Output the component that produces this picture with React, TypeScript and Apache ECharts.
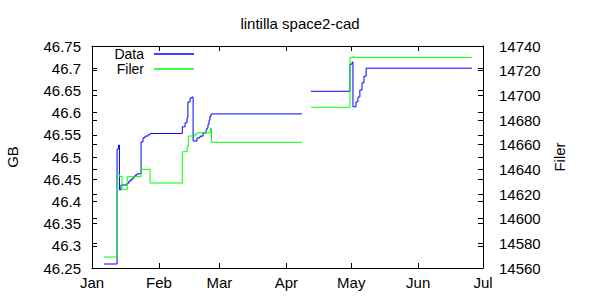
import React, { useEffect, useRef } from "react";
import * as echarts from "echarts";

// Days after Jan 1 (non-leap year) where each step of the series begins
const dataDays = [5.6, 11.6, 12.3, 12.7, 13.4, 16.2, 17.1, 18.1, 19.0, 19.9, 20.8, 22.7, 23.6, 24.5, 25.9, 26.9, 41.8, 43.1, 44.0, 44.4, 45.4, 46.3, 46.8, 48.6, 50.0, 51.4, 52.8, 53.2, 53.7, 54.2, 54.6, 55.1, 97.2, 97.5, 101.4, 119.4, 120.4, 120.8, 122.2, 123.1, 124.0, 125.0, 125.9, 126.9, 175.9];
const dataGB = [46.259, 46.518, 46.527, 46.426, 46.437, 46.441, 46.446, 46.45, 46.455, 46.459, 46.462, 46.534, 46.543, 46.547, 46.55, 46.553, 46.568, 46.577, 46.588, 46.624, 46.633, 46.635, 46.536, 46.543, 46.547, 46.554, 46.561, 46.565, 46.574, 46.583, 46.592, 46.597, 46.597, null, 46.648, 46.709, 46.714, 46.613, 46.624, 46.635, 46.651, 46.667, 46.682, 46.7, 46.7];

const filerDays = [5.6, 11.7, 12.7, 13.9, 16.3, 22.7, 26.9, 41.8, 44.0, 44.6, 47.7, 48.6, 54.9, 55.3, 97.2, 97.5, 101.4, 119.4, 121.0, 121.3, 175.9];
const filerCount = [14568.9, 14636.0, 14634.2, 14623.8, 14634.0, 14640.0, 14628.9, 14654.3, 14658.4, 14667.0, 14668.4, 14669.7, 14673.3, 14661.9, 14661.9, null, 14690.3, 14730.8, 14732.1, 14730.8, 14730.8];

const monthNames = ["Jan", "Feb", "Mar", "Apr", "May", "Jun", "Jul", "Aug", "Sep", "Oct", "Nov", "Dec"];

const YEAR = 2011;
const DAY = 86400000;
const START = Date.UTC(YEAR, 0, 1);
const END = Date.UTC(YEAR, 6, 1);

const toPairs = (days: number[], vals: (number | null)[]) =>
  days.map((d, i) => [START + d * DAY, vals[i] === null ? "-" : vals[i]]);

const FONT = "Liberation Sans";
const FS = 15;

export default function App() {
  const ref = useRef<HTMLDivElement>(null);
  useEffect(() => {
    if (!ref.current) return;
    const chart = echarts.init(ref.current, null, { renderer: "svg" });
    const axisLine = { show: true, lineStyle: { color: "#000", width: 1 } };
    const tickIn = { show: true, inside: true, length: 5, lineStyle: { color: "#000" } };
    const label = { color: "#000", fontFamily: FONT, fontSize: FS };
    const legendBase = {
      right: 406,
      align: "right",
      icon: "rect",
      itemWidth: 40,
      itemHeight: 1.5,
      itemGap: 0,
      padding: 0,
      textStyle: { ...label, fontSize: 14, lineHeight: 14, padding: [0, 5, 0, 0] },
    };
    chart.setOption({
      animation: false,
      useUTC: true,
      backgroundColor: "#fff",
      textStyle: { fontFamily: FONT },
      title: {
        text: "lintilla space2-cad",
        left: "center",
        top: 11,
        textStyle: { color: "#000", fontFamily: FONT, fontSize: FS, fontWeight: "normal" },
      },
      legend: [
        { ...legendBase, data: ["Data"], top: 47 },
        { ...legendBase, data: ["Filer"], top: 62 },
      ],
      grid: { left: 92, right: 117, top: 46, bottom: 32, containLabel: false, outerBoundsMode: "none" },
      xAxis: [
        {
          type: "time",
          min: START,
          max: END,
          minInterval: 28 * DAY,
          maxInterval: 31 * DAY,
          axisLine,
          axisTick: tickIn,
          splitLine: { show: false },
          axisLabel: {
            ...label,
            margin: 7,
            hideOverlap: false,
            showMinLabel: true,
            showMaxLabel: true,
            formatter: (v: number) => monthNames[new Date(v).getUTCMonth()],
          },
        },
        {
          type: "time",
          position: "top",
          min: START,
          max: END,
          minInterval: 28 * DAY,
          maxInterval: 31 * DAY,
          axisLine,
          axisTick: tickIn,
          splitLine: { show: false },
          axisLabel: { show: false },
        },
      ],
      yAxis: [
        {
          type: "value",
          name: "GB",
          nameLocation: "middle",
          nameGap: 72,
          nameRotate: 90,
          nameTextStyle: label,
          min: 46.25,
          max: 46.75,
          interval: 0.05,
          position: "left",
          axisLine,
          axisTick: tickIn,
          splitLine: { show: false },
          axisLabel: { ...label, margin: 11 },
        },
        {
          type: "value",
          name: "Filer",
          nameLocation: "middle",
          nameGap: 68,
          nameRotate: 90,
          nameTextStyle: label,
          min: 14560,
          max: 14740,
          interval: 20,
          position: "right",
          axisLine,
          axisTick: tickIn,
          splitLine: { show: false },
          axisLabel: { ...label, margin: 16, formatter: (v: number) => String(v) },
        },
        {
          type: "value",
          min: 46.25,
          max: 46.75,
          interval: 0.05,
          position: "right",
          axisLine: { show: false },
          axisTick: tickIn,
          splitLine: { show: false },
          axisLabel: { show: false },
        },
        {
          type: "value",
          min: 14560,
          max: 14740,
          interval: 20,
          position: "left",
          axisLine: { show: false },
          axisTick: tickIn,
          splitLine: { show: false },
          axisLabel: { show: false },
        },
      ],
      series: [
        {
          name: "Data",
          type: "line",
          step: "end",
          xAxisIndex: 0,
          yAxisIndex: 0,
          showSymbol: false,
          symbol: "none",
          connectNulls: false,
          color: "#0000ff",
          lineStyle: { color: "#0000ff", width: 1 },
          data: toPairs(dataDays, dataGB),
        },
        {
          name: "Filer",
          type: "line",
          step: "end",
          xAxisIndex: 0,
          yAxisIndex: 1,
          showSymbol: false,
          symbol: "none",
          connectNulls: false,
          color: "#00ff00",
          lineStyle: { color: "#00ff00", width: 1 },
          data: toPairs(filerDays, filerCount),
        },
      ],
    });
    return () => chart.dispose();
  }, []);
  return <div ref={ref} style={{ width: 600, height: 300, position: "absolute", left: 0, top: 0 }} />;
}
